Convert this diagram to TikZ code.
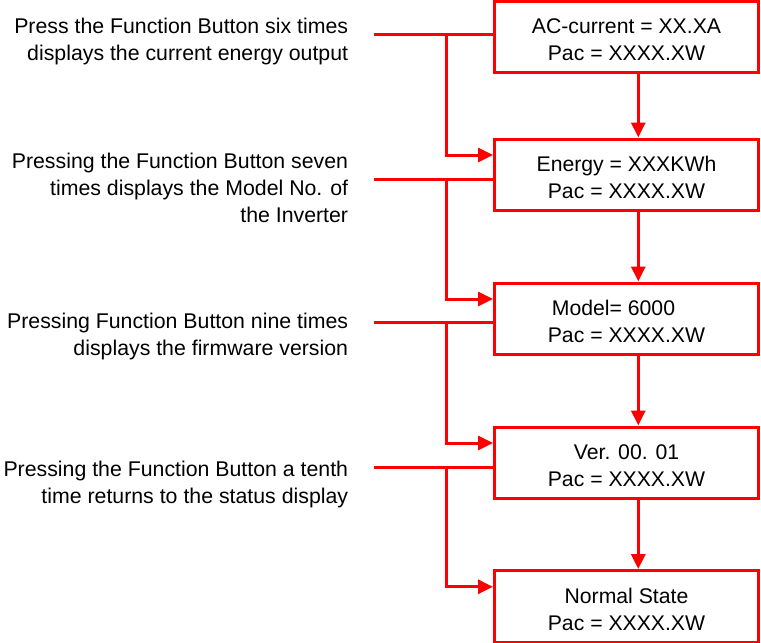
\documentclass[tikz,border=0pt]{standalone}
\usepackage{fontspec}
\setmainfont{Liberation Sans}
\usetikzlibrary{arrows.meta}
\definecolor{lred}{RGB}{255,0,0}
\tikzset{
  stbox/.style={draw=lred, line width=3pt, minimum width=264pt, minimum height=71.5pt,
    inner sep=0pt, align=center, font=\fontsize{21.2}{27}\selectfont},
  note/.style={anchor=north east, inner sep=0pt, align=right, font=\fontsize{21.3}{27}\selectfont},
  wire/.style={draw=lred, line width=3pt},
  arr/.style={wire, -{Triangle[length=15pt,width=14pt]}}
}
\newcommand{\st}{\rule{0pt}{21.5pt}}
\begin{document}
\begin{tikzpicture}[x=1pt,y=-1pt]
\useasboundingbox (0,0) rectangle (761,643);
% boxes
\node[stbox] (b1) at (626.5,36.75) {\st AC-current = XX.XA\\Pac = XXXX.XW};
\node[stbox] (b2) at (626.5,174.75) {\st Energy = XXXKWh\\Pac = XXXX.XW};
\node[stbox] (b3) at (626.5,318.75) {\st Model= 6000\hspace*{26pt}\\Pac = XXXX.XW};
\node[stbox] (b4) at (626.5,462.75) {\st Ver. 00. 01\\Pac = XXXX.XW};
\node[stbox] (b5) at (626.5,606.3) {\st Normal State\\Pac = XXXX.XW};
% notes
\node[note] (t1) at (348.3,18.3) {Press the Function Button six times\\displays the current energy output};
\node[note] (t2) at (348.3,152.7) {Pressing the Function Button seven\\times displays the Model No. of\\the Inverter};
\node[note] (t3) at (348.3,313) {Pressing Function Button nine times\\displays the firmware version};
\node[note] (t4) at (348.3,460.7) {Pressing the Function Button a tenth\\time returns to the status display};
% free ends and junctions
\coordinate (s1) at (374,34.3);
\coordinate (s2) at (374,179.3);
\coordinate (s3) at (374,322.8);
\coordinate (s4) at (374,467);
\coordinate (j1) at (446.7,34.3);
\coordinate (j2) at (446.7,179.3);
\coordinate (j3) at (446.7,322.8);
\coordinate (j4) at (446.7,467);
% vertical arrows
\draw[arr] ([xshift=11.8pt]b1.south) -- ([xshift=11.8pt]b2.north);
\draw[arr] ([xshift=11.8pt]b2.south) -- ([xshift=11.8pt]b3.north);
\draw[arr] ([xshift=11.8pt]b3.south) -- ([xshift=11.8pt]b4.north);
\draw[arr] ([xshift=11.8pt]b4.south) -- ([xshift=11.8pt]b5.north);
% horizontal lines
\draw[wire] (s1) -- (s1 -| b1.west);
\draw[wire] (s2) -- (s2 -| b2.west);
\draw[wire] (s3) -- (s3 -| b3.west);
\draw[wire] (s4) -- (s4 -| b4.west);
% branch arrows
\draw[arr] (j1) |- ([yshift=19.75pt]b2.west);
\draw[arr] (j2) |- ([yshift=19.75pt]b3.west);
\draw[arr] (j3) |- ([yshift=19.75pt]b4.west);
\draw[arr] (j4) |- ([yshift=19.5pt]b5.west);
\end{tikzpicture}
\end{document}
